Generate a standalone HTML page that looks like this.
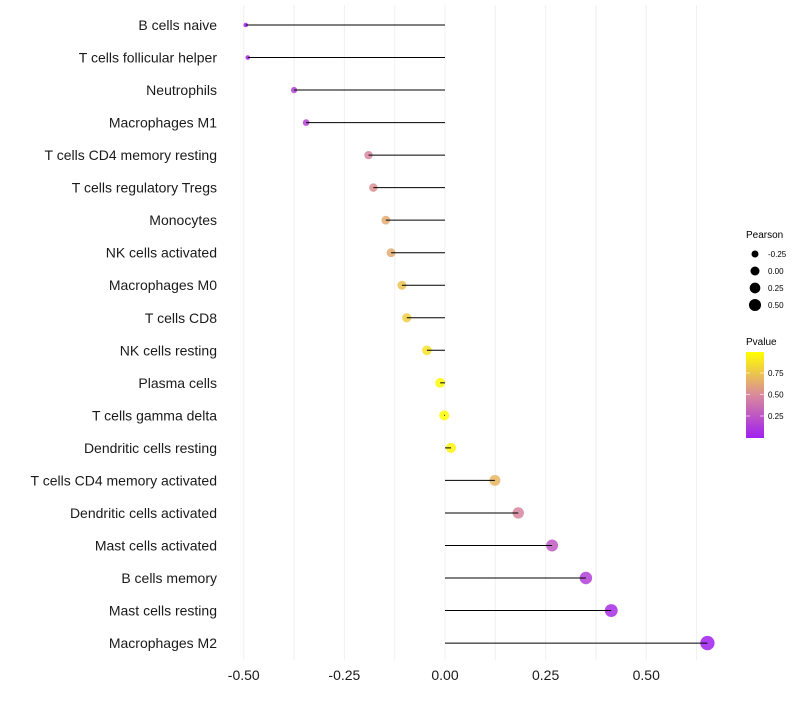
<!DOCTYPE html>
<html><head><meta charset="utf-8"><style>
body{margin:0;background:#fff;font-family:"Liberation Sans",sans-serif}
</style></head><body>
<svg id="chart" width="800" height="700" xmlns="http://www.w3.org/2000/svg" font-family="Liberation Sans, sans-serif">
<defs><linearGradient id="pg" x1="0" y1="1" x2="0" y2="0">
<stop offset="0" stop-color="#a020f0"/><stop offset="0.5" stop-color="#d98a9c"/><stop offset="1" stop-color="#ffff00"/></linearGradient></defs>
<g id="grid"></g>
<g id="marks"></g>
<g id="ylabels"></g>
<g id="xlabels"></g>
<g>
<text x="746" y="238" font-size="10">Pearson</text>
<g id="sizeleg"></g>
</g>
<g>
<text x="746" y="345" font-size="10">Pvalue</text>
<rect x="746" y="352" width="18" height="86" fill="url(#pg)"/>
<g id="colleg"></g>
</g>
</svg>
<script>
const categories=["B cells naive","T cells follicular helper","Neutrophils","Macrophages M1","T cells CD4 memory resting","T cells regulatory  Tregs ","Monocytes","NK cells activated","Macrophages M0","T cells CD8","NK cells resting","Plasma cells","T cells gamma delta","Dendritic cells resting","T cells CD4 memory activated","Dendritic cells activated","Mast cells activated","B cells memory","Mast cells resting","Macrophages M2"];
const pearson=[-0.495,-0.49,-0.375,-0.345,-0.19,-0.178,-0.147,-0.134,-0.107,-0.095,-0.045,-0.012,-0.002,0.015,0.124,0.182,0.266,0.35,0.413,0.652];
const pvalue=[0.05,0.06,0.2,0.2,0.5,0.55,0.65,0.66,0.75,0.8,0.88,0.97,0.99,0.95,0.7,0.5,0.3,0.18,0.1,0.03];
const xTicks=[-0.5,-0.25,0,0.25,0.5];
const xTickLabels=["-0.50","-0.25","0.00","0.25","0.50"];
const sizeLegendVals=[-0.25,0,0.25,0.5];
const sizeLegendLabels=["-0.25","0.00","0.25","0.50"];
const colorLegendVals=[0.25,0.5,0.75];
const colorLegendLabels=["0.25","0.50","0.75"];
const NS="http://www.w3.org/2000/svg";
const x=v=>445+v*402.5;
const y=i=>25+i*32.53;
const r=v=>Math.sqrt(Math.max(2,25+40*v));
const pY=p=>394.5-(p-0.5)*86;
function lerp(a,b,t){return a.map((c,i)=>Math.round(c+(b[i]-c)*t));}
function col(p){const t=Math.max(0,Math.min(1,(p-0.04)/0.96));const A=[160,32,240],M=[217,138,156],B=[255,255,0];const c=t<0.5?lerp(A,M,t*2):lerp(M,B,(t-0.5)*2);return `rgb(${c})`;}
function mk(tag,attrs,parent){const e=document.createElementNS(NS,tag);for(const k in attrs)e.setAttribute(k,attrs[k]);parent.appendChild(e);return e;}
const grid=document.getElementById('grid'),marks=document.getElementById('marks'),yl=document.getElementById('ylabels'),xl=document.getElementById('xlabels');
for(let v=-0.5;v<=0.63;v+=0.125){const g=mk('line',{x1:x(v),x2:x(v),y1:5,y2:660,stroke:'#f0f0f0','stroke-width':1},grid);

}
categories.forEach((c,i)=>{
 const pt=mk('circle',{cx:x(pearson[i]),cy:y(i),r:r(pearson[i]),fill:col(pvalue[i]),'fill-opacity':0.85},marks);
 
 
 const s=mk('line',{x1:x(0),x2:x(pearson[i]),y1:y(i),y2:y(i),stroke:'#000','stroke-width':1},marks);
 
 
 const t=mk('text',{x:217,y:y(i)+5,'text-anchor':'end','font-size':14,fill:'#1a1a1a'},yl);t.textContent=c;
 
 
});
xTicks.forEach((v,i)=>{const t=mk('text',{x:x(v),y:680,'text-anchor':'middle','font-size':14,fill:'#1a1a1a'},xl);t.textContent=xTickLabels[i];

});
const sl=document.getElementById('sizeleg');
sizeLegendVals.forEach((v,i)=>{const cy=254+i*17;const c=mk('circle',{cx:755,cy:cy,r:r(v)*0.9,fill:'#000'},sl);


const t=mk('text',{x:768,y:cy+3,'font-size':8},sl);t.textContent=sizeLegendLabels[i];

});
const cl=document.getElementById('colleg');
colorLegendVals.forEach((v,i)=>{const yy=pY(v);mk('line',{x1:746,x2:750,y1:yy,y2:yy,stroke:'#fff','stroke-opacity':0.6},cl);mk('line',{x1:760,x2:764,y1:yy,y2:yy,stroke:'#fff','stroke-opacity':0.6},cl);
const t=mk('text',{x:768,y:yy+3,'font-size':8},cl);t.textContent=colorLegendLabels[i];

});
</script>
</body></html>
